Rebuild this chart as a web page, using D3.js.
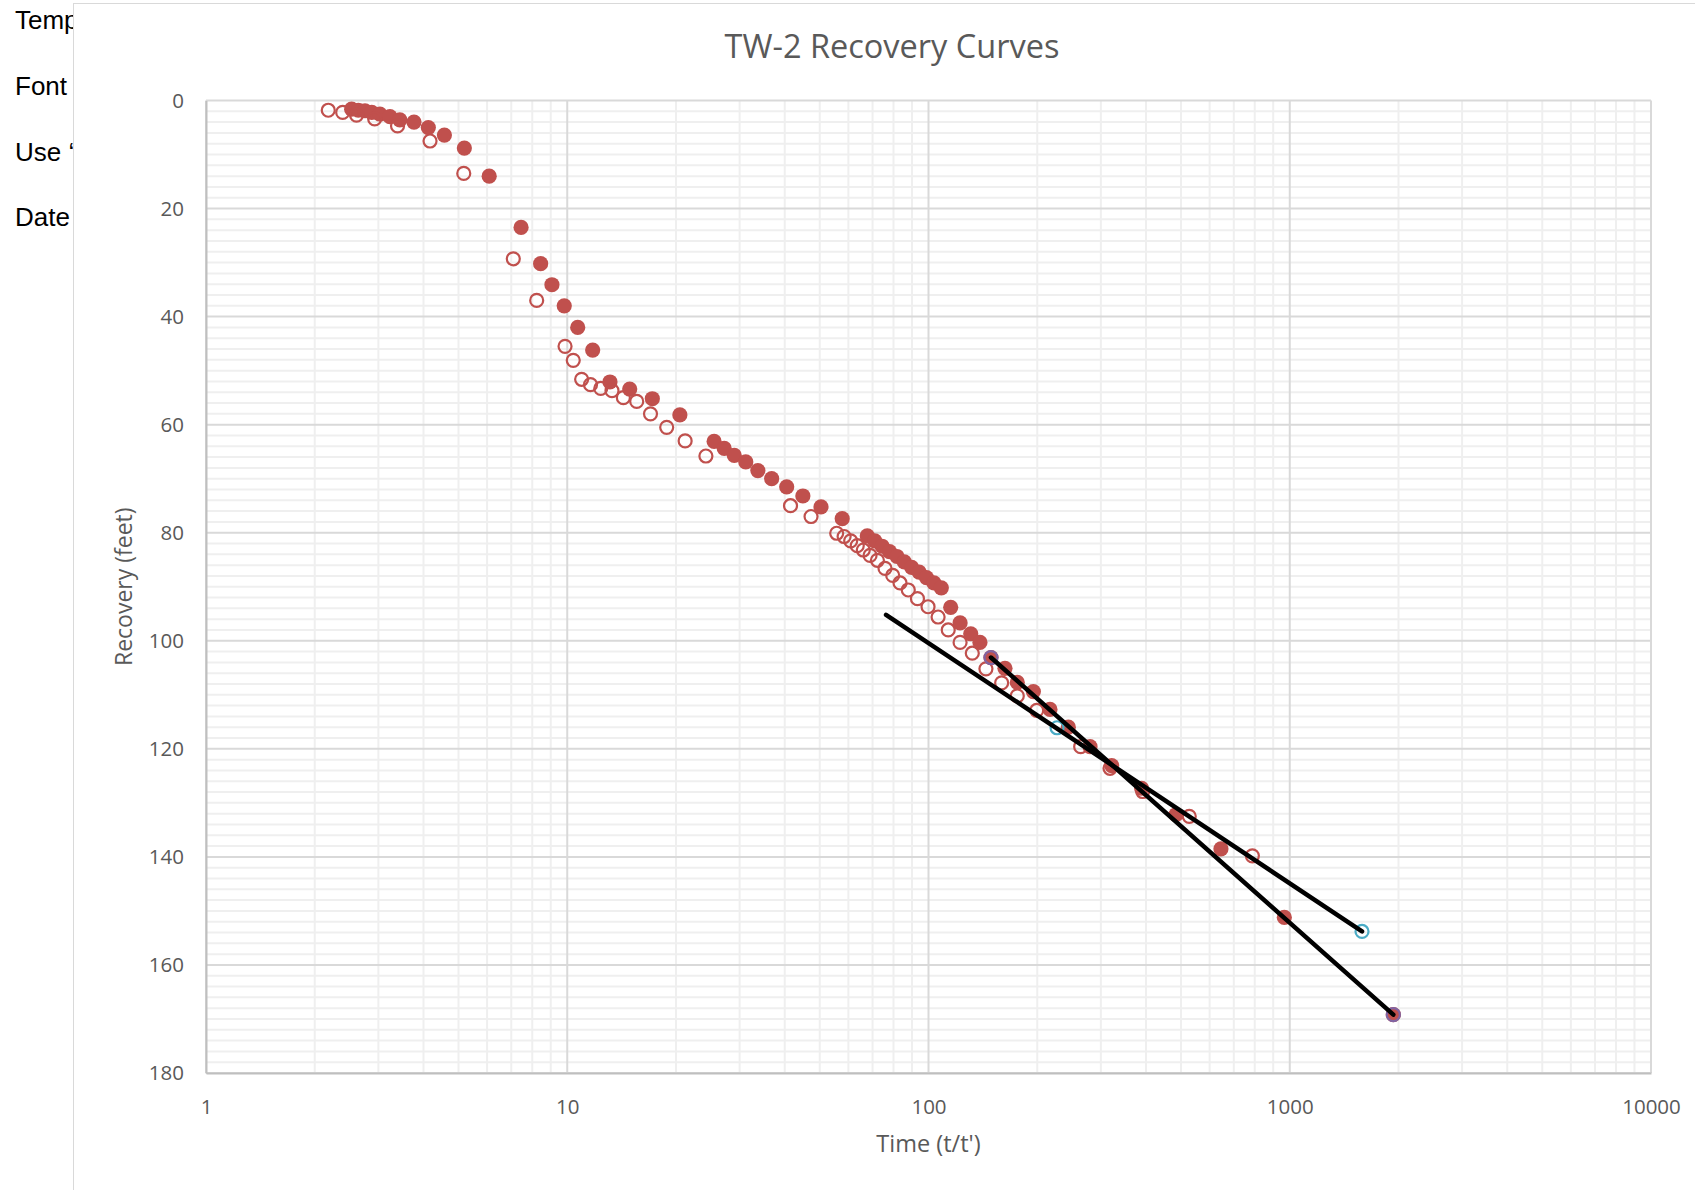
<!DOCTYPE html>
<html>
<head>
<meta charset="utf-8">
<script src="https://cdn.jsdelivr.net/npm/d3@7"></script>
<style>
  body { margin: 0; background: #fff; }
  svg { display: block; }
</style>
</head>
<body>
<div id="chart"></div>
<script>
// 空心点（t/t'，恢复量）
const openTime = [2.18, 2.39, 2.61, 2.93, 3.39, 4.17, 5.17, 7.09, 8.23, 9.86, 10.39, 10.96, 11.6, 12.38, 13.3, 14.3, 15.57, 17.0, 18.85, 21.2, 24.2, 41.5, 47.3, 55.7, 58.4, 60.9, 63.5, 66.0, 68.9, 72.2, 75.8, 79.6, 83.4, 87.9, 93.2, 99.7, 106.3, 113.4, 122.3, 132.2, 144.2, 159.4, 176.1, 199.3, 263.8, 318, 391.6, 527, 788];
const openRecovery = [1.8, 2.2, 2.7, 3.4, 4.7, 7.5, 13.5, 29.3, 37.0, 45.5, 48.1, 51.6, 52.6, 53.3, 53.7, 55.0, 55.7, 58.0, 60.5, 63.0, 65.8, 75.0, 77.0, 80.1, 80.7, 81.5, 82.4, 83.2, 84.2, 85.1, 86.6, 87.9, 89.3, 90.6, 92.2, 93.7, 95.6, 98.0, 100.3, 102.3, 105.2, 107.8, 110.2, 112.9, 119.6, 123.6, 127.9, 132.5, 139.8];

// 实心点
const filledTime = [2.53, 2.64, 2.755, 2.876, 3.03, 3.23, 3.44, 3.765, 4.125, 4.57, 5.19, 6.08, 7.45, 8.44, 9.07, 9.81, 10.69, 11.76, 13.13, 14.89, 17.2, 20.5, 25.5, 27.2, 29.0, 31.2, 33.7, 36.8, 40.5, 44.9, 50.4, 57.7, 67.7, 71.0, 74.4, 78.0, 81.8, 85.7, 89.8, 94.2, 98.7, 103.5, 108.5, 115.2, 122.3, 130.9, 138.8, 148.9, 162.8, 176.1, 195.1, 216.9, 243.8, 280, 321.4, 389, 484.3, 645, 966, 1935];
const filledRecovery = [1.6, 1.8, 1.9, 2.2, 2.5, 3.0, 3.6, 4.0, 5.0, 6.4, 8.8, 14.0, 23.5, 30.2, 34.1, 38.0, 42.0, 46.2, 52.1, 53.4, 55.2, 58.2, 63.1, 64.4, 65.7, 66.9, 68.5, 70.0, 71.5, 73.2, 75.2, 77.4, 80.6, 81.5, 82.5, 83.5, 84.4, 85.4, 86.4, 87.3, 88.3, 89.3, 90.2, 93.8, 96.7, 98.7, 100.3, 103.1, 105.1, 107.7, 109.4, 112.7, 116.0, 119.6, 123.1, 127.3, 132.2, 138.5, 151.2, 169.2];

// 两条直线及其端点
const cyanTime = [226.9, 1585];
const cyanRecovery = [116.1, 153.8];
const lineATime = [76.3, 1585];
const lineARecovery = [95.2, 153.8];
const purpleTime = [148.9, 1935];
const purpleRecovery = [103.1, 169.2];

// 刻度
const xTickValues = [1, 10, 100, 1000, 10000];
const yTickValues = [0, 20, 40, 60, 80, 100, 120, 140, 160, 180];
const sideNotes = ["Temp", "Font", "Use \u2018", "Date"];

const width = 1695, height = 1190;
const plotLeft = 206, plotRight = 1651, plotTop = 100.5, plotBottom = 1073;
const textColor = "#595959";
const red = "#C0504D";
const font = "'Open Sans', sans-serif";

const svg = d3.select("#chart").append("svg")
  .attr("width", width)
  .attr("height", height);

svg.append("rect").attr("width", width).attr("height", height).attr("fill", "#fff");

// 左侧被遮住的文字
svg.append("g")
  .selectAll("text")
  .data(sideNotes)
  .join("text")
  .attr("x", 15)
  .attr("y", (d, i) => 29 + i * 65.8)
  .attr("font-family", "'Liberation Sans', Arial, sans-serif")
  .attr("font-size", 26)
  .attr("fill", "#000")
  .text(d => d);

// 图表区
svg.append("rect")
  .attr("x", 73.5).attr("y", 3.5)
  .attr("width", 1700).attr("height", 1300)
  .attr("fill", "#fff")
  .attr("stroke", "#d9d9d9")
  .attr("stroke-width", 1);

const x = d3.scaleLog().domain([1, 10000]).range([plotLeft, plotRight]);
const y = d3.scaleLinear().domain([0, 180]).range([plotTop, plotBottom]);

// 网格
const grid = svg.append("g");
grid.selectAll(".ymin").data(d3.range(0, 181, 2).filter(v => v % 20 !== 0))
  .join("line")
  .attr("x1", plotLeft).attr("x2", plotRight)
  .attr("y1", d => y(d)).attr("y2", d => y(d))
  .attr("stroke", "#efefef").attr("stroke-width", 2);
grid.selectAll(".xmin").data(x.ticks().filter(v => !xTickValues.includes(v)))
  .join("line")
  .attr("x1", d => x(d)).attr("x2", d => x(d))
  .attr("y1", plotTop).attr("y2", plotBottom)
  .attr("stroke", "#efefef").attr("stroke-width", 2);
grid.selectAll(".ymaj").data(yTickValues)
  .join("line")
  .attr("x1", plotLeft).attr("x2", plotRight)
  .attr("y1", d => y(d)).attr("y2", d => y(d))
  .attr("stroke", "#d9d9d9").attr("stroke-width", 2);
grid.selectAll(".xmaj").data(xTickValues)
  .join("line")
  .attr("x1", d => x(d)).attr("x2", d => x(d))
  .attr("y1", plotTop).attr("y2", plotBottom)
  .attr("stroke", "#d9d9d9").attr("stroke-width", 2);

// 坐标轴
const xAxis = svg.append("g")
  .attr("transform", `translate(0,${plotBottom})`)
  .call(d3.axisBottom(x).tickValues(xTickValues).tickFormat(d3.format("d")).tickSize(0).tickPadding(26));
const yAxis = svg.append("g")
  .attr("transform", `translate(${plotLeft},0)`)
  .call(d3.axisLeft(y).tickValues(yTickValues).tickSize(0).tickPadding(22));
[xAxis, yAxis].forEach(a => {
  a.select(".domain").attr("stroke", "#bfbfbf").attr("stroke-width", 2);
  a.selectAll("text")
    .attr("font-family", font)
    .attr("font-size", 20.5)
    .attr("fill", textColor);
});

// 实心点
svg.append("g")
  .selectAll("circle")
  .data(filledTime.map((t, i) => [t, filledRecovery[i]]))
  .join("circle")
  .attr("cx", d => x(d[0]))
  .attr("cy", d => y(d[1]))
  .attr("r", 7.6)
  .attr("fill", red);

// 空心点
svg.append("g")
  .selectAll("circle")
  .data(openTime.map((t, i) => [t, openRecovery[i]]))
  .join("circle")
  .attr("cx", d => x(d[0]))
  .attr("cy", d => y(d[1]))
  .attr("r", 6.5)
  .attr("fill", "none")
  .attr("stroke", red)
  .attr("stroke-width", 2.2);

// 端点标记
svg.append("g")
  .selectAll("circle")
  .data(cyanTime.map((t, i) => [t, cyanRecovery[i]]))
  .join("circle")
  .attr("cx", d => x(d[0]))
  .attr("cy", d => y(d[1]))
  .attr("r", 6.5)
  .attr("fill", "none")
  .attr("stroke", "#4BACC6")
  .attr("stroke-width", 2.2);
svg.append("g")
  .selectAll("circle")
  .data(purpleTime.map((t, i) => [t, purpleRecovery[i]]))
  .join("circle")
  .attr("cx", d => x(d[0]))
  .attr("cy", d => y(d[1]))
  .attr("r", 6.5)
  .attr("fill", "none")
  .attr("stroke", "#8064A2")
  .attr("stroke-width", 2.2);

// 直线
const line = d3.line().x(d => x(d[0])).y(d => y(d[1]));
[[lineATime, lineARecovery], [purpleTime, purpleRecovery]].forEach(([ts, rs]) => {
  svg.append("path")
    .datum(ts.map((t, i) => [t, rs[i]]))
    .attr("d", line)
    .attr("fill", "none")
    .attr("stroke", "#000")
    .attr("stroke-width", 4.5)
    .attr("stroke-linecap", "round");
});

// 标题
svg.append("text")
  .attr("x", 892).attr("y", 57.5)
  .attr("text-anchor", "middle")
  .attr("font-family", font)
  .attr("font-size", 32.5)
  .attr("fill", textColor)
  .text("TW-2 Recovery Curves");

svg.append("text")
  .attr("x", (plotLeft + plotRight) / 2).attr("y", 1151.5)
  .attr("text-anchor", "middle")
  .attr("font-family", font)
  .attr("font-size", 23.5)
  .attr("fill", textColor)
  .text("Time (t/t')");

svg.append("text")
  .attr("transform", `translate(132,${(plotTop + plotBottom) / 2}) rotate(-90)`)
  .attr("text-anchor", "middle")
  .attr("font-family", font)
  .attr("font-size", 23)
  .attr("fill", textColor)
  .text("Recovery (feet)");
</script>
</body>
</html>
